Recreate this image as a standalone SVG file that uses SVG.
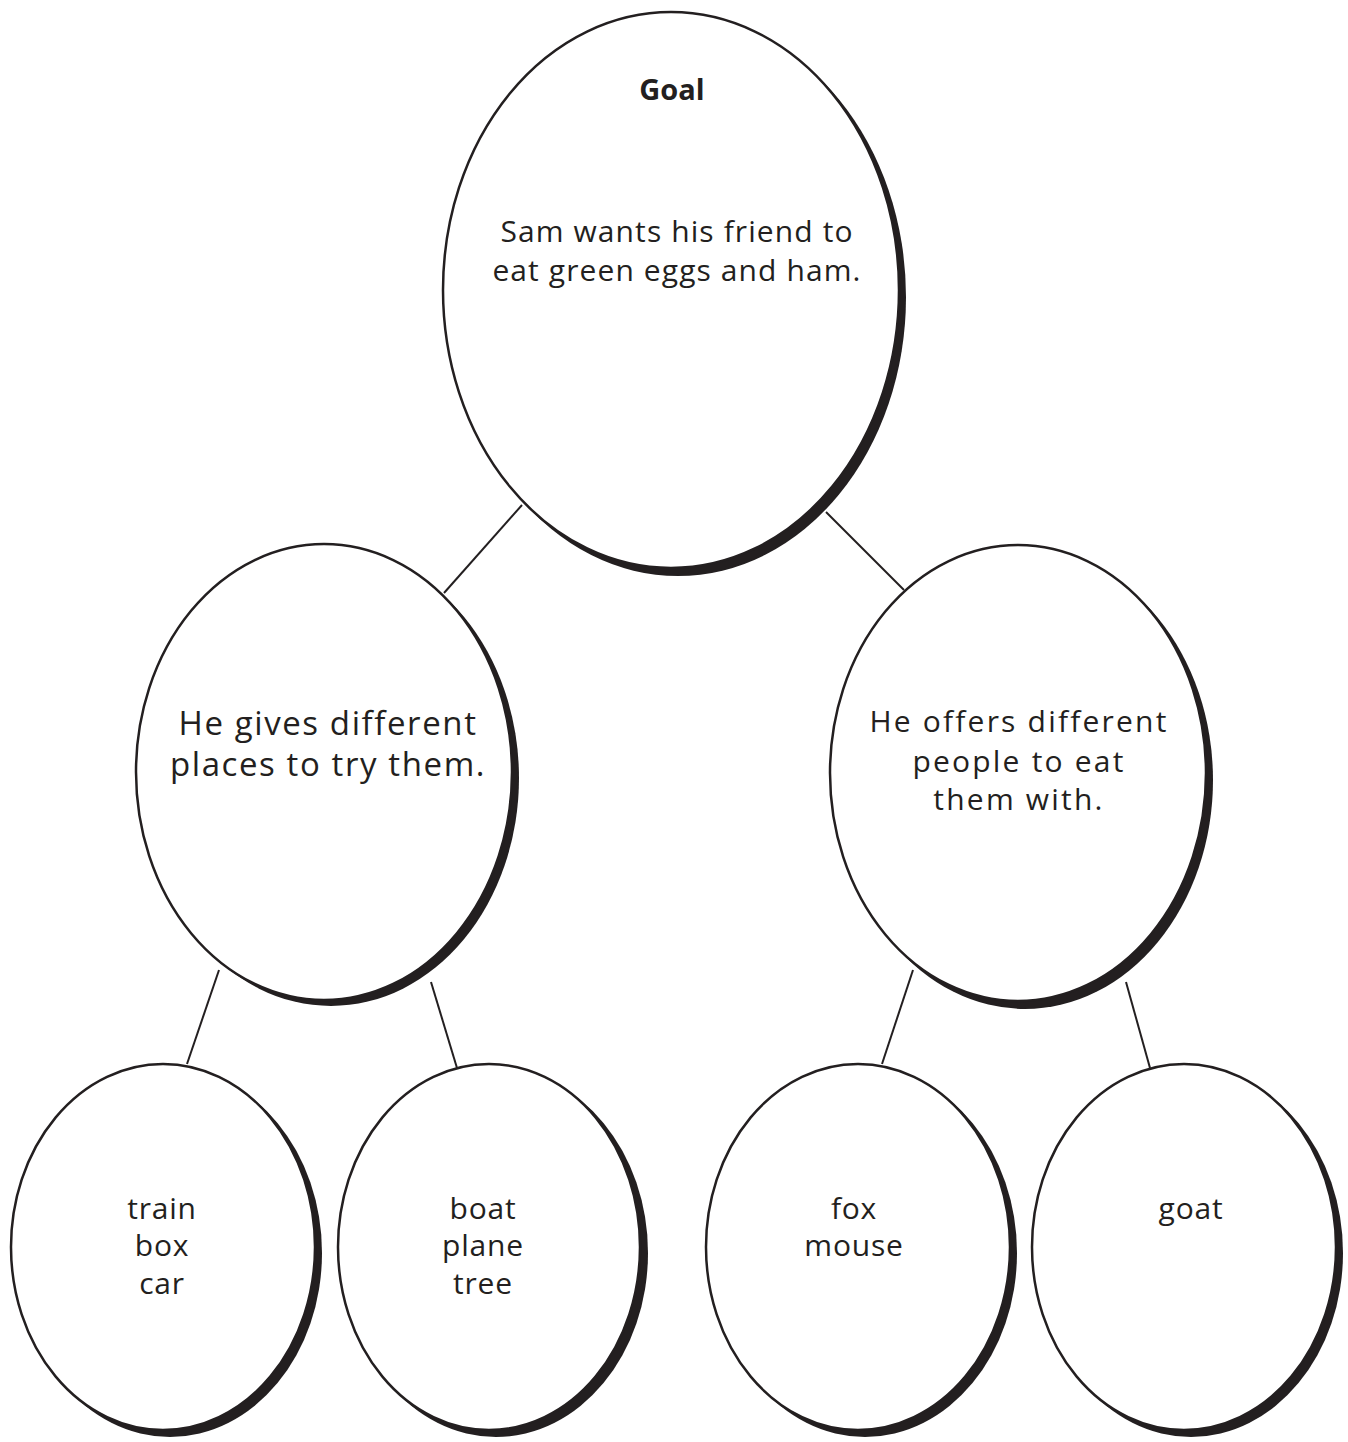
<svg xmlns="http://www.w3.org/2000/svg" width="1348" height="1442" viewBox="0 0 1348 1442">
<style>
.sh{fill:#231f20}
.el{fill:#fff;stroke:#231f20;stroke-width:2.5}
.t{font-family:"Open Sans","Noto Sans",sans-serif;fill:#231f20;text-anchor:middle}
.g{font-size:30px;letter-spacing:1.1px}
.m1{font-size:33px;letter-spacing:1.6px}
.m2{font-size:30px;letter-spacing:2.2px}
.s{font-size:30px;letter-spacing:0.8px}
.b{font-family:"Open Sans","Noto Sans",sans-serif;font-weight:bold;fill:#231f20;text-anchor:middle;font-size:29px}
.c line{stroke:#231f20;stroke-width:2}
</style>
<rect width="1348" height="1442" fill="#fff"/>
<g class="c" id="connectors">
<line x1="522" y1="505" x2="444" y2="593"/>
<line x1="826" y1="512" x2="904" y2="590"/>
<line x1="219" y1="970" x2="187" y2="1064"/>
<line x1="431" y1="982" x2="457" y2="1068"/>
<line x1="913" y1="970" x2="882" y2="1064"/>
<line x1="1126" y1="982" x2="1150" y2="1068"/>
</g>
<g id="goal">
<ellipse class="sh" cx="678" cy="297" rx="228" ry="279"/>
<ellipse class="el" cx="671" cy="290" rx="228" ry="278"/>
<text class="b" x="672" y="100">Goal</text>
<text class="t g" x="677" y="242">Sam wants his friend to</text>
<text class="t g" x="677" y="281">eat green eggs and ham.</text>
</g>
<g id="places">
<ellipse class="sh" cx="331" cy="778" rx="188" ry="228"/>
<ellipse class="el" cx="324" cy="772" rx="188" ry="228"/>
<text class="t m1" x="328" y="735">He gives different</text>
<text class="t m1" x="328" y="776">places to try them.</text>
</g>
<g id="people">
<ellipse class="sh" cx="1025" cy="780" rx="188" ry="229"/>
<ellipse class="el" cx="1018" cy="773" rx="188" ry="228"/>
<text class="t m2" x="1019" y="732">He offers different</text>
<text class="t m2" x="1019" y="772">people to eat</text>
<text class="t m2" x="1019" y="810">them with.</text>
</g>
<g id="n1">
<ellipse class="sh" cx="170" cy="1253" rx="152" ry="184"/>
<ellipse class="el" cx="163" cy="1247" rx="152" ry="183"/>
<text class="t s" x="162" y="1219">train</text>
<text class="t s" x="162" y="1256">box</text>
<text class="t s" x="162" y="1294">car</text>
</g>
<g id="n2">
<ellipse class="sh" cx="496" cy="1253" rx="152" ry="184"/>
<ellipse class="el" cx="489" cy="1247" rx="151" ry="183"/>
<text class="t s" x="483" y="1219">boat</text>
<text class="t s" x="483" y="1256">plane</text>
<text class="t s" x="483" y="1294">tree</text>
</g>
<g id="n3">
<ellipse class="sh" cx="865" cy="1253" rx="152" ry="184"/>
<ellipse class="el" cx="858" cy="1247" rx="152" ry="183"/>
<text class="t s" x="854" y="1219">fox</text>
<text class="t s" x="854" y="1256">mouse</text>
</g>
<g id="n4">
<ellipse class="sh" cx="1191" cy="1253" rx="152" ry="184"/>
<ellipse class="el" cx="1184" cy="1247" rx="152" ry="183"/>
<text class="t s" x="1191" y="1219">goat</text>
</g>
</svg>
